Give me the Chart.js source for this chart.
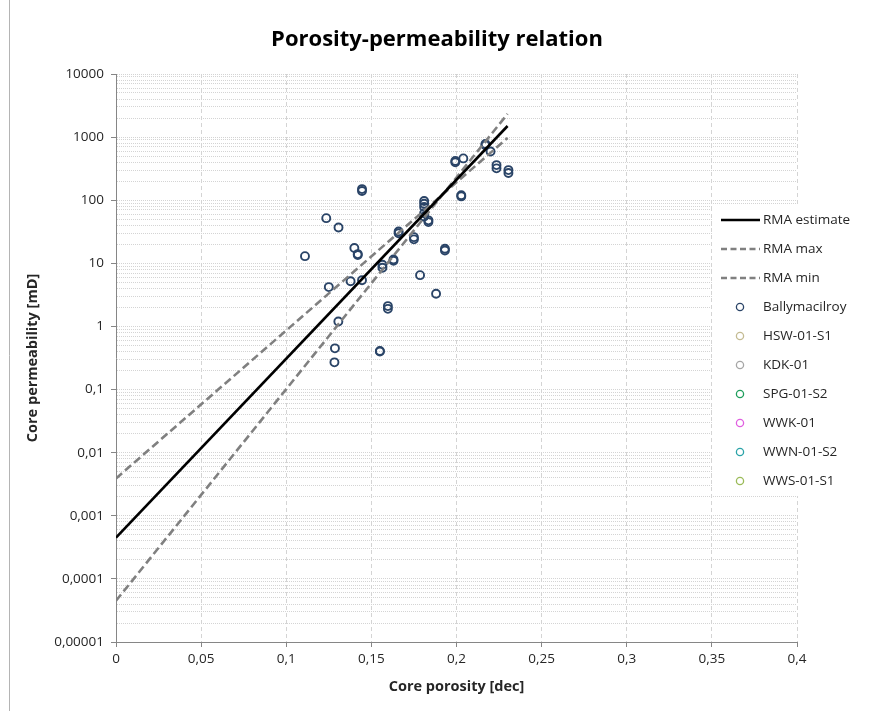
<!DOCTYPE html>
<html>
<head>
<meta charset="utf-8">
<title>Porosity-permeability relation</title>
<script src="https://cdn.jsdelivr.net/npm/chart.js@4.4.1/dist/chart.umd.min.js"></script>
<style>
  html, body { margin: 0; padding: 0; background: #fff; }
  #wrap { width: 869px; height: 711px; position: relative; }
</style>
</head>
<body>
<div id="wrap"><canvas id="poroPerm" width="869" height="711"></canvas></div>
<script>
/* ---------- data ---------- */
// core plugs, Ballymacilroy
const porosity = [0.111, 0.1235, 0.1307, 0.125, 0.1378, 0.140, 0.142, 0.142, 0.1445, 0.1445,
  0.1445, 0.1306, 0.1286, 0.1283, 0.155, 0.155, 0.1597, 0.1597, 0.1565, 0.1565,
  0.163, 0.163, 0.166, 0.166, 0.175, 0.175, 0.1786, 0.181, 0.181, 0.181,
  0.181, 0.181, 0.1835, 0.1835, 0.188, 0.1932, 0.1932, 0.1993, 0.1993, 0.204,
  0.2028, 0.2028, 0.217, 0.217, 0.220, 0.2235, 0.2235, 0.2305, 0.2305];
const permeability = [13, 52, 37, 4.2, 5.2, 17.5, 14, 13.5, 150, 140,
  5.4, 1.2, 0.45, 0.27, 0.41, 0.40, 2.1, 1.9, 9.5, 8.5,
  11.5, 11, 32, 30, 26, 24, 6.5, 97, 88, 78,
  62, 55, 48, 45, 3.3, 17, 16, 420, 400, 460,
  120, 115, 780, 740, 590, 360, 320, 300, 270];

// RMA regression lines (end points)
const rmaPorosity = [0, 0.23];
const rmaEstimate = [0.00045, 1500];
const rmaMax = [0.0039, 970];
const rmaMin = [0.000045, 2330];

// other wells (no samples in this plot)
const otherWells = ["HSW-01-S1", "KDK-01", "SPG-01-S2", "WWK-01", "WWN-01-S2", "WWS-01-S1"];
const otherColors = ["#c4bb92", "#a6a6a6", "#1f9e5c", "#e060e0", "#2ba3a8", "#9bbb59"];

// axis ticks
const xTickValues = [0, 0.05, 0.1, 0.15, 0.2, 0.25, 0.3, 0.35, 0.4];
const xTickLabels = ["0", "0,05", "0,1", "0,15", "0,2", "0,25", "0,3", "0,35", "0,4"];
const yDecades = [0.00001, 0.0001, 0.001, 0.01, 0.1, 1, 10, 100, 1000, 10000];
const yTickLabels = ["0,00001", "0,0001", "0,001", "0,01", "0,1", "1", "10", "100", "1000", "10000"];

const chartTitle = "Porosity-permeability relation";

/* ---------- helpers ---------- */
const pts = (xs, ys) => xs.map((x, i) => ({ x: x, y: ys[i] }));
const FONT = "'Open Sans', 'Noto Sans', sans-serif";
const TXT = "#262626";

function rmaLine(label, ys, dashed) {
  return {
    label: label,
    data: pts(rmaPorosity, ys),
    showLine: true,
    borderColor: dashed ? "#808080" : "#000",
    borderWidth: 2.6,
    borderDash: dashed ? [8, 4] : [],
    pointRadius: 0,
    pointHoverRadius: 0,
    order: 0
  };
}

const datasets = [
  rmaLine("RMA estimate", rmaEstimate, false),
  rmaLine("RMA max", rmaMax, true),
  rmaLine("RMA min", rmaMin, true),
  {
    label: "Ballymacilroy",
    data: pts(porosity, permeability),
    pointStyle: "circle",
    pointRadius: 4,
    pointBorderWidth: 1.9,
    pointBorderColor: "#2a4467",
    pointBackgroundColor: "rgba(255,255,255,0)",
    order: 1
  }
];
otherWells.forEach((w, i) => {
  datasets.push({
    label: w,
    data: [],
    pointRadius: 4,
    pointBorderWidth: 1.2,
    pointBorderColor: otherColors[i],
    pointBackgroundColor: "rgba(255,255,255,0)",
    order: 1
  });
});

/* ---------- plugins ---------- */
const whiteBg = {
  id: "whiteBg",
  beforeDraw(chart) {
    const c = chart.ctx;
    c.save();
    c.fillStyle = "#fff";
    c.fillRect(0, 0, chart.width, chart.height);
    // chart frame on the left
    c.strokeStyle = "#b4b4b4";
    c.lineWidth = 1;
    c.beginPath();
    c.moveTo(9.5, 0);
    c.lineTo(9.5, chart.height);
    c.stroke();
    // title, centred on the whole frame
    c.fillStyle = "#000";
    c.font = "bold 22px " + FONT;
    c.textAlign = "center";
    c.textBaseline = "middle";
    c.fillText(chartTitle, 437, 40);
    c.restore();
  }
};

// legend to the right, overlapping the plot edge
const sideLegend = {
  id: "sideLegend",
  afterDraw(chart) {
    const c = chart.ctx;
    c.save();
    c.fillStyle = "#fff";
    c.fillRect(713, 204, 156, 292);
    c.font = "13.5px " + FONT;
    c.textBaseline = "middle";
    chart.data.datasets.forEach((ds, i) => {
      const y = 220 + i * 29;
      if (ds.showLine) {
        c.strokeStyle = ds.borderColor;
        c.lineWidth = 2.6;
        c.setLineDash(ds.borderDash.length ? [6, 3.5] : []);
        c.beginPath();
        c.moveTo(721, y);
        c.lineTo(760, y);
        c.stroke();
        c.setLineDash([]);
      } else {
        c.strokeStyle = ds.pointBorderColor;
        c.lineWidth = 1.3;
        c.beginPath();
        c.arc(740, y, 3.6, 0, Math.PI * 2);
        c.stroke();
      }
      c.fillStyle = TXT;
      c.fillText(ds.label, 763, y);
    });
    c.restore();
  }
};

/* ---------- chart ---------- */
new Chart(document.getElementById("poroPerm"), {
  type: "scatter",
  data: { datasets: datasets },
  plugins: [whiteBg, sideLegend],
  options: {
    responsive: false,
    animation: false,
    layout: { padding: { left: 10, right: 72, top: 74, bottom: 10 } },
    plugins: {
      legend: { display: false },
      tooltip: { enabled: false },
      title: { display: false }
    },
    scales: {
      x: {
        type: "linear",
        min: 0,
        max: 0.4,
        afterBuildTicks: s => { s.ticks = xTickValues.map(v => ({ value: v })); },
        afterFit: s => { s.height = 59; },
        ticks: {
          autoSkip: false,
          maxRotation: 0,
          padding: 4,
          color: TXT,
          font: { family: FONT, size: 13.5 },
          callback: (v, i) => xTickLabels[i]
        },
        grid: {
          color: ctx => ctx.index === 0 ? "rgba(0,0,0,0)" : "#d4d4d4",
          lineWidth: 1,
          tickLength: 5,
          tickColor: "#868686"
        },
        border: { display: true, color: "#868686", width: 1, dash: [4, 3] },
        title: {
          display: true,
          text: "Core porosity [dec]",
          color: TXT,
          font: { family: FONT, size: 14.5, weight: "bold" },
          padding: { top: 0, bottom: 5 }
        }
      },
      y: {
        type: "logarithmic",
        min: 0.00001,
        max: 10000,
        afterBuildTicks: s => {
          const t = [];
          yDecades.forEach((d, i) => {
            t.push({ value: d, decade: i });
            if (i < yDecades.length - 1) {
              for (let k = 2; k <= 9; k++) t.push({ value: d * k });
            }
          });
          s.ticks = t;
        },
        afterFit: s => { s.width = 106; },
        ticks: {
          autoSkip: false,
          padding: 7,
          color: TXT,
          font: { family: FONT, size: 13.5 },
          callback: (v, i, ticks) => ticks[i].decade !== undefined ? yTickLabels[ticks[i].decade] : ""
        },
        grid: {
          color: ctx => ctx.index === 0 ? "rgba(0,0,0,0)" : "#d4d4d4",
          lineWidth: 1,
          tickLength: 5,
          tickColor: ctx => ctx.tick && ctx.tick.decade !== undefined ? "#868686" : "rgba(0,0,0,0)"
        },
        border: { display: true, color: "#868686", width: 1, dash: [1, 1] },
        title: {
          display: true,
          text: "Core permeability [mD]",
          color: TXT,
          font: { family: FONT, size: 14.5, weight: "bold" },
          padding: { top: 14, bottom: 0 }
        }
      }
    }
  }
});
</script>
</body>
</html>
